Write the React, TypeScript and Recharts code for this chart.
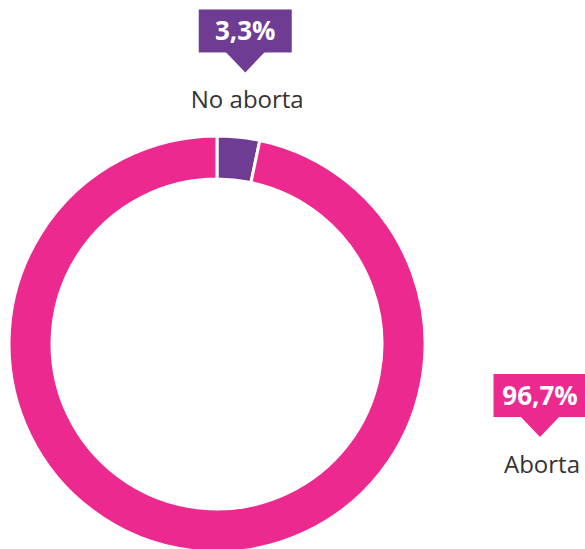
import { Cell, Pie, PieChart } from "recharts"

const categories = ["No aborta", "Aborta"]
const values = [3.3, 96.7]
const valueLabels = ["3,3%", "96,7%"]
const colors = ["#6F3C93", "#EC298F"]

const data = categories.map((name, i) => ({ name, value: values[i] }))

const RADIAN = Math.PI / 180

function CalloutLabel(props: any) {
  const { cx, cy, midAngle, outerRadius, index } = props
  let tipX: number
  let tipY: number
  if (index === 0) {
    // small slice: callout sits above the ring, along its mid angle
    const r = outerRadius + 65
    tipX = cx + r * Math.cos(-midAngle * RADIAN)
    tipY = cy + r * Math.sin(-midAngle * RADIAN)
  } else {
    // big slice: callout pushed out to the right of the ring
    tipX = cx + outerRadius + 115
    tipY = cy + 93
  }
  const boxW = 93
  const boxH = 43
  const ptrH = 20
  const ptrW = 40
  const top = tipY - ptrH - boxH
  const left = tipX - boxW / 2
  const color = colors[index]
  return (
    <g>
      <rect x={left} y={top} width={boxW} height={boxH} fill={color} />
      <polygon
        points={`${tipX - ptrW / 2},${top + boxH - 1} ${tipX + ptrW / 2},${top + boxH - 1} ${tipX},${tipY}`}
        fill={color}
      />
      <text
        x={tipX}
        y={top + boxH / 2 + 9}
        textAnchor="middle"
        fill="#fff"
        fontFamily="'Open Sans', sans-serif"
        fontWeight={700}
        fontSize={26}
      >
        {valueLabels[index]}
      </text>
      <text
        x={tipX + 2}
        y={tipY + 36}
        textAnchor="middle"
        fill="#333"
        fontFamily="'Open Sans', sans-serif"
        fontSize={24}
      >
        {categories[index]}
      </text>
    </g>
  )
}

export default function App() {
  return (
    <div style={{ position: "absolute", left: 0, top: 0, background: "#fff" }}>
      <PieChart width={585} height={549} margin={{ top: 0, right: 0, bottom: 0, left: 0 }}>
        <Pie
          data={data}
          dataKey="value"
          nameKey="name"
          cx={217}
          cy={344}
          innerRadius={165}
          outerRadius={208}
          startAngle={90}
          endAngle={-270}
          stroke="#fff"
          strokeWidth={3}
          label={CalloutLabel}
          labelLine={false}
          isAnimationActive={false}
        >
          {data.map((d, i) => (
            <Cell key={d.name} fill={colors[i]} />
          ))}
        </Pie>
      </PieChart>
    </div>
  )
}
